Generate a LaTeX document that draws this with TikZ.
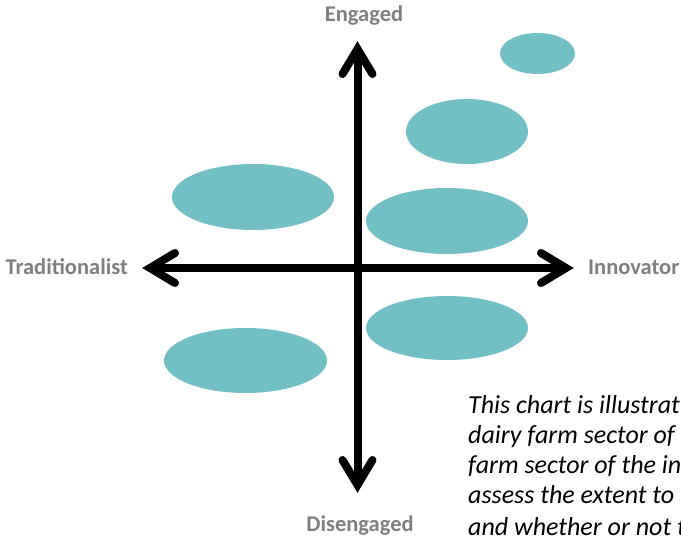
\documentclass[tikz,border=0pt]{standalone}
\usepackage{fontspec}
\setmainfont{Carlito}
\usetikzlibrary{shapes.geometric}
\definecolor{blobcol}{HTML}{72BFC5}
\definecolor{labgray}{HTML}{7F7F7F}
\begin{document}
\begin{tikzpicture}[x=1pt,y=-1pt,
  blob/.style={ellipse, fill=blobcol, draw=none, inner sep=0pt},
  axis/.style={line width=8pt, black, line cap=round, line join=miter, miter limit=10},
  axislabel/.style={font=\fontsize{22.5}{27}\selectfont\bfseries, text=labgray, inner sep=0pt},
  note/.style={font=\fontsize{26}{31}\selectfont\itshape, text=black, inner sep=0pt, anchor=base west}]
\useasboundingbox (0,0) rectangle (681,536);
\clip (0,0) rectangle (681,536);
% ellipses
\node[blob, minimum width=75pt, minimum height=41pt] (e1) at (537.5,53.5) {};
\node[blob, minimum width=122pt, minimum height=65pt] (e2) at (467,131.5) {};
\node[blob, minimum width=162pt, minimum height=66pt] (e3) at (253,197) {};
\node[blob, minimum width=162pt, minimum height=66pt] (e4) at (447,221) {};
\node[blob, minimum width=162pt, minimum height=64pt] (e5) at (447,328) {};
\node[blob, minimum width=163pt, minimum height=65pt] (e6) at (245.5,360.5) {};
% axes
\coordinate (top) at (357.5,49);
\coordinate (bot) at (357.5,485);
\coordinate (lft) at (150,268);
\coordinate (rgt) at (566,268);
\draw[axis, line cap=butt] (bot) -- (top);
\draw[axis, line cap=butt] (lft) -- (rgt);
\draw[axis] ([shift={(-15,25)}]top) -- (top) -- ([shift={(15,25)}]top);
\draw[axis] ([shift={(-15,-25)}]bot) -- (bot) -- ([shift={(15,-25)}]bot);
\draw[axis] ([shift={(25,-15)}]lft) -- (lft) -- ([shift={(25,15)}]lft);
\draw[axis] ([shift={(-25,-15)}]rgt) -- (rgt) -- ([shift={(-25,15)}]rgt);
% labels
\node[axislabel, anchor=base] (eng) at (364,21) {Engaged};
\node[axislabel, anchor=base] (dis) at (360,531) {Disengaged};
\node[axislabel, anchor=base east] (tra) at (128,274) {Traditionalist};
\node[axislabel, anchor=base west] (inn) at (588,274) {Innovator};
% note
\node[note] (n1) at (468,413) {This chart is illustrat};
\node[note] (n2) at (468,443) {dairy farm sector of};
\node[note] (n3) at (468,473) {farm sector of the in};
\node[note] (n4) at (468,503) {assess the extent to};
\node[note] (n5) at (468,535) {and whether or not t};
\end{tikzpicture}
\end{document}
